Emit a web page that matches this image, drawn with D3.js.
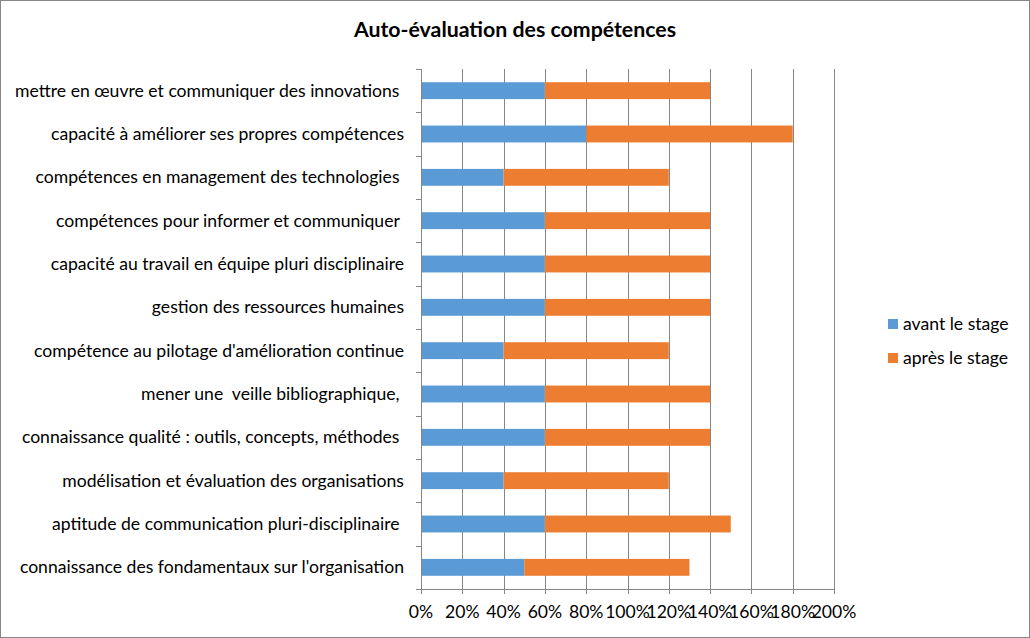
<!DOCTYPE html>
<html><head><meta charset="utf-8">
<script src="https://cdn.jsdelivr.net/npm/d3@7"></script>
<style>
body{margin:0;background:#fff;}
svg text{font-family:Lato,"Open Sans",sans-serif;white-space:pre;}
</style></head><body>
<svg id="c" width="1030" height="638"></svg>
<script>
const categories = [
 "mettre en œuvre et communiquer des innovations ",
 "capacité à améliorer ses propres compétences",
 "compétences en management des technologies ",
 "compétences pour informer et communiquer ",
 "capacité au travail en équipe pluri disciplinaire",
 "gestion des ressources humaines",
 "compétence au pilotage d'amélioration continue",
 "mener une  veille bibliographique, ",
 "connaissance qualité : outils, concepts, méthodes ",
 "modélisation et évaluation des organisations",
 "aptitude de communication pluri-disciplinaire ",
 "connaissance des fondamentaux sur l'organisation"
];
const avant = [0.6,0.8,0.4,0.6,0.6,0.6,0.4,0.6,0.6,0.4,0.6,0.5];
const apres = [0.8,1.0,0.8,0.8,0.8,0.8,0.8,0.8,0.8,0.8,0.9,0.8];
const seriesNames = ["avant le stage","après le stage"];
const colors = ["#5B9BD5","#ED7D31"];
const tickValues = [0,0.2,0.4,0.6,0.8,1.0,1.2,1.4,1.6,1.8,2.0];
const title = "Auto-évaluation des compétences";

const svg = d3.select("#c");
svg.append("rect").attr("x",0.5).attr("y",0.5).attr("width",1029).attr("height",637)
  .attr("fill","#fff").attr("stroke","#868686");

const L=421, R=834, T=69, B=589;
const x = d3.scaleLinear().domain([0,2]).range([L,R]);
const y = d3.scaleBand().domain(categories).range([T,B]).paddingInner(0.61).paddingOuter(0.305);
const yb = d3.scaleBand().domain(categories).range([T,B]);

// gridlines
svg.append("g").selectAll("line").data(tickValues.slice(1)).join("line")
  .attr("x1",d=>Math.round(x(d))+0.5).attr("x2",d=>Math.round(x(d))+0.5)
  .attr("y1",T).attr("y2",B).attr("stroke","#868686").attr("stroke-width",1);

const data = categories.map((c,i)=>({c, a:avant[i], p:apres[i]}));
const stack = d3.stack().keys(["a","p"])(data);
svg.append("g").selectAll("g").data(stack).join("g").attr("fill",(d,i)=>colors[i])
  .selectAll("rect").data(d=>d).join("rect")
  .attr("x",d=>x(d[0])).attr("width",d=>x(d[1])-x(d[0]))
  .attr("y",d=>y(d.data.c)).attr("height",y.bandwidth());

// left axis
const gl = svg.append("g");
gl.append("line").attr("x1",L+0.5).attr("x2",L+0.5).attr("y1",T).attr("y2",B).attr("stroke","#868686");
const bounds = categories.map(c=>yb(c)).concat([B]);
gl.selectAll("line.t").data(bounds).join("line").attr("class","t")
  .attr("x1",L-5).attr("x2",L).attr("y1",d=>Math.round(d)+0.5).attr("y2",d=>Math.round(d)+0.5).attr("stroke","#868686");
gl.selectAll("text").data(categories).join("text")
  .attr("x",404).attr("y",d=>yb(d)+yb.bandwidth()/2).attr("dy","0.35em")
  .attr("text-anchor","end").attr("font-size",17.6).attr("fill","#000").text(d=>d);

// bottom axis
const gb = svg.append("g");
gb.append("line").attr("x1",L).attr("x2",R+1).attr("y1",B+0.5).attr("y2",B+0.5).attr("stroke","#868686");
gb.selectAll("line.t").data(tickValues).join("line").attr("class","t")
  .attr("x1",d=>Math.round(x(d))+0.5).attr("x2",d=>Math.round(x(d))+0.5).attr("y1",B).attr("y2",B+5).attr("stroke","#868686");
gb.selectAll("text").data(tickValues).join("text")
  .attr("x",d=>x(d)).attr("y",B+29).attr("text-anchor","middle").attr("font-size",17.6)
  .attr("fill","#000").text(d=>d3.format(".0%")(d));

// title
svg.append("text").attr("x",515).attr("y",37).attr("text-anchor","middle")
  .attr("font-size",21.3).attr("font-weight","bold").attr("fill","#000").text(title);

// legend
const lg = svg.append("g").selectAll("g").data(seriesNames).join("g")
  .attr("transform",(d,i)=>`translate(888,${319+i*34})`);
lg.append("rect").attr("width",10).attr("height",10).attr("fill",(d,i)=>colors[i]);
lg.append("text").attr("x",15).attr("y",5).attr("dy","0.35em").attr("font-size",17.6).attr("fill","#000").text(d=>d);
</script>
</body></html>
